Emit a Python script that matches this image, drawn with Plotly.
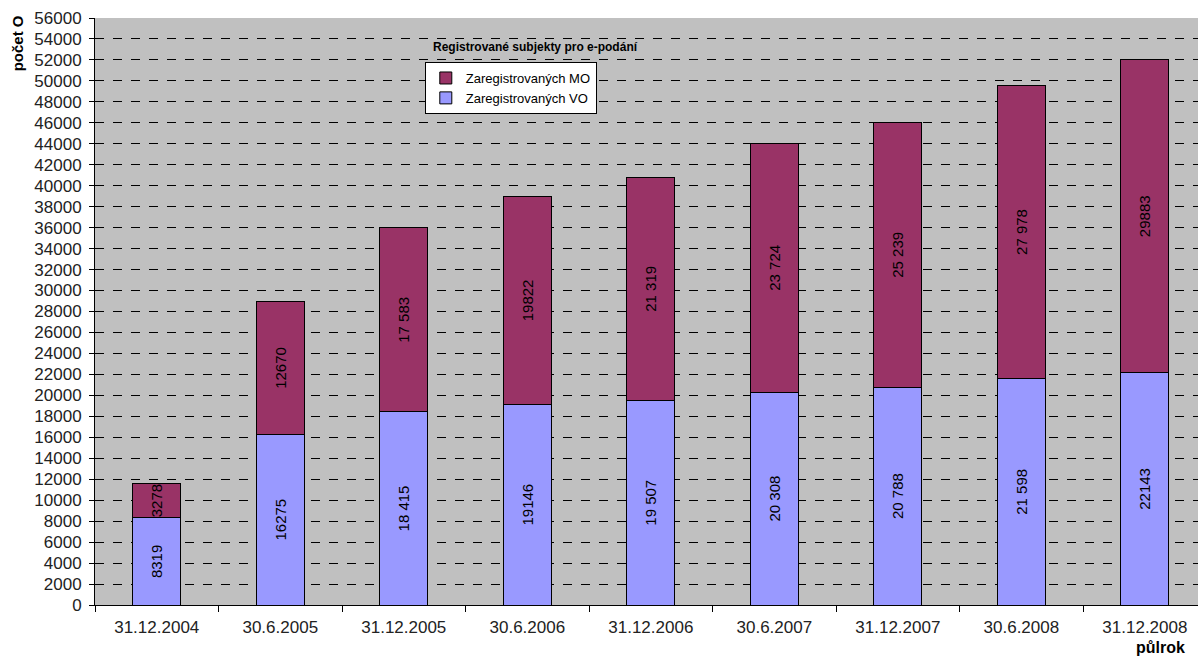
import plotly.graph_objects as go

categories = ["31.12.2004", "30.6.2005", "31.12.2005", "30.6.2006", "31.12.2006",
              "30.6.2007", "31.12.2007", "30.6.2008", "31.12.2008"]
vo_values = [8319, 16275, 18415, 19146, 19507, 20308, 20788, 21598, 22143]
mo_values = [3278, 12670, 17583, 19822, 21319, 23724, 25239, 27978, 29883]
vo_labels = ["8319", "16275", "18 415", "19146", "19 507", "20 308", "20 788", "21 598", "22143"]
mo_labels = ["3278", "12670", "17 583", "19822", "21 319", "23 724", "25 239", "27 978", "29883"]
y_ticks = list(range(0, 56001, 2000))

FONT = "Liberation Sans, Arial, sans-serif"

fig = go.Figure()
fig.add_trace(go.Bar(
    name="Zaregistrovaných VO", x=categories, y=vo_values, text=vo_labels,
    marker=dict(color="#9999FF", line=dict(color="#000000", width=1)),
    width=0.39, textposition="inside", textangle=-90, insidetextanchor="middle",
    constraintext="none", textfont=dict(family=FONT, size=15, color="#000000"),
))
fig.add_trace(go.Bar(
    name="Zaregistrovaných MO", x=categories, y=mo_values, text=mo_labels,
    marker=dict(color="#993366", line=dict(color="#000000", width=1)),
    width=0.39, textposition="inside", textangle=-90, insidetextanchor="middle",
    constraintext="none", textfont=dict(family=FONT, size=15, color="#000000"),
))

fig.update_layout(
    width=1198, height=660,
    barmode="stack",
    paper_bgcolor="#FFFFFF",
    plot_bgcolor="#C0C0C0",
    margin=dict(l=95, r=0, t=18, b=55),
    font=dict(family=FONT, size=17, color="#222222"),
    showlegend=True,
    legend=dict(
        x=0.299, y=0.925, xanchor="left", yanchor="top",
        bgcolor="#FFFFFF", bordercolor="#000000", borderwidth=1,
        traceorder="reversed", font=dict(family=FONT, size=13, color="#000000"),
        itemwidth=30, tracegroupgap=0,
    ),
    xaxis=dict(
        type="category", range=[-0.5, 8.43],
        showline=True, linecolor="#000000", linewidth=1,
        ticks="outside", tickson="boundaries", ticklen=6, tickcolor="#000000",
        showgrid=False, tickfont=dict(family=FONT, size=17, color="#222222"),
        tickangle=0, ticklabelstandoff=7,
    ),
    yaxis=dict(
        range=[0, 56000], tickvals=y_ticks, ticktext=[str(v) for v in y_ticks],
        showline=True, linecolor="#000000", linewidth=1,
        ticks="outside", ticklen=5, tickcolor="#000000",
        showgrid=True, gridcolor="#000000", gridwidth=1, griddash="dash",
        zeroline=False, tickfont=dict(family=FONT, size=17, color="#222222"),
        ticklabelstandoff=4,
    ),
    annotations=[
        dict(text="<b>Registrované subjekty pro e-podání</b>", xref="paper", yref="paper",
             x=0.399, y=0.951, xanchor="center", yanchor="middle", showarrow=False,
             font=dict(family=FONT, size=12, color="#000000")),
        dict(text="<b>počet O</b>", xref="paper", yref="paper",
             x=-0.0707, y=1.008, xanchor="center", yanchor="top", textangle=-90, showarrow=False,
             font=dict(family=FONT, size=15, color="#000000")),
        dict(text="<b>půlrok</b>", xref="paper", yref="paper",
             x=0.990, y=-0.073, xanchor="right", yanchor="middle", showarrow=False,
             font=dict(family=FONT, size=16, color="#000000")),
    ],
)

fig.write_html("out.html")
